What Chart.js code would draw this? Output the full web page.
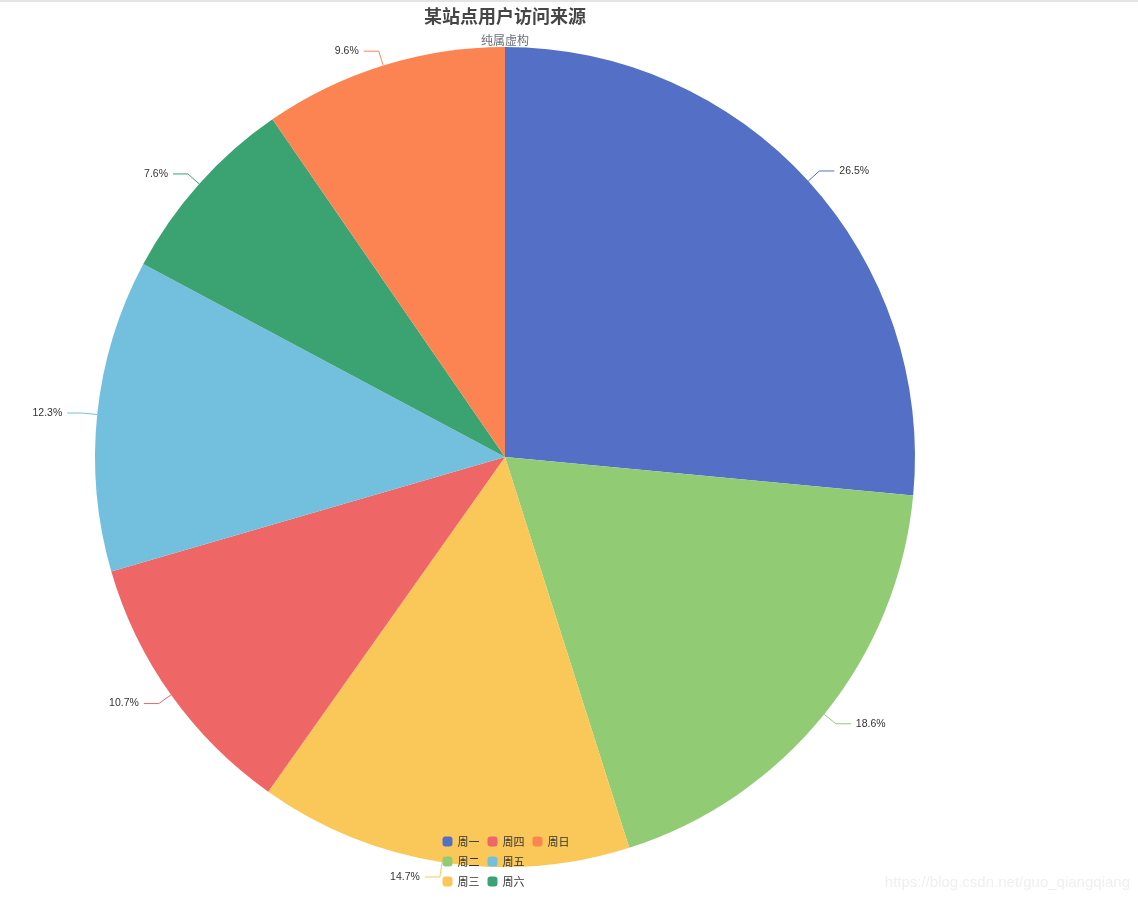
<!DOCTYPE html>
<html>
<head>
<meta charset="utf-8">
<script src="https://cdn.jsdelivr.net/npm/chart.js@4"></script>
<style>
html,body{margin:0;padding:0;background:#fff;}
#wrap{position:relative;width:1138px;height:901px;border-top:2px solid #e4e4e4;box-sizing:border-box;}
canvas{display:block;}
</style>
</head>
<body>
<div id="wrap"><canvas id="c" width="1138" height="899"></canvas></div>
<script>
const categories = ['周一', '周二', '周三', '周四', '周五', '周六', '周日'];
const percentValues = [26.5, 18.6, 14.7, 10.7, 12.3, 7.6, 9.6];
const sliceColors = ['#5470c6', '#91cc75', '#fac858', '#ee6666', '#73c0de', '#3ba272', '#fc8452'];
const titleText = '某站点用户访问来源';
const subtitleText = '纯属虚构';
const watermarkText = 'https://blog.csdn.net/guo_qiangqiang';
const legendColumns = [['周一', '周二', '周三'], ['周四', '周五', '周六'], ['周日']];

const FONT = '"Liberation Sans", "Noto Sans CJK SC", sans-serif';
const CJK = '"Noto Sans CJK SC", "Liberation Sans", sans-serif';

const overlay = {
  id: 'overlay',
  afterDatasetsDraw(chart) {
    const ctx = chart.ctx;
    const meta = chart.getDatasetMeta(0);
    ctx.save();
    // leader lines + labels
    meta.data.forEach((arc, i) => {
      const mid = (arc.startAngle + arc.endAngle) / 2;
      const r = arc.outerRadius;
      const cx = arc.x, cy = arc.y;
      const x0 = cx + Math.cos(mid) * r, y0 = cy + Math.sin(mid) * r;
      const x1 = cx + Math.cos(mid) * (r + 15), y1 = cy + Math.sin(mid) * (r + 15);
      const dir = Math.cos(mid) >= 0 ? 1 : -1;
      const x2 = x1 + dir * 15;
      ctx.strokeStyle = sliceColors[i];
      ctx.lineWidth = 1;
      ctx.beginPath();
      ctx.moveTo(x0, y0);
      ctx.lineTo(x1, y1);
      ctx.lineTo(x2, y1);
      ctx.stroke();
      ctx.fillStyle = '#333';
      ctx.font = '10.5px ' + FONT;
      ctx.textBaseline = 'middle';
      ctx.textAlign = dir > 0 ? 'left' : 'right';
      ctx.fillText(percentValues[i].toFixed(1) + '%', x2 + dir * 5, y1);
    });
    // title
    ctx.textAlign = 'center';
    ctx.textBaseline = 'middle';
    ctx.fillStyle = '#464646';
    ctx.font = 'bold 18px ' + CJK;
    ctx.fillText(titleText, 505, 14);
    ctx.fillStyle = '#6e7079';
    ctx.font = '12px ' + CJK;
    ctx.fillText(subtitleText, 505, 38);
    // legend
    const colX = [442.5, 487.5, 532.5];
    const rowY = [839.5, 859.5, 879.5];
    legendColumns.forEach((col, ci) => {
      col.forEach((name, ri) => {
        const idx = categories.indexOf(name);
        const x = colX[ci], y = rowY[ri];
        ctx.fillStyle = sliceColors[idx];
        ctx.beginPath();
        if (ctx.roundRect) ctx.roundRect(x, y - 5, 10, 10, 3); else ctx.rect(x, y - 5, 10, 10);
        ctx.fill();
        ctx.fillStyle = '#333';
        ctx.font = '11px ' + CJK;
        ctx.textAlign = 'left';
        ctx.textBaseline = 'middle';
        ctx.fillText(name, x + 15, y);
      });
    });
    // watermark
    ctx.fillStyle = '#efefef';
    ctx.font = '15px ' + FONT;
    ctx.textAlign = 'right';
    ctx.fillText(watermarkText, 1130, 881);
    ctx.restore();
  }
};

new Chart(document.getElementById('c'), {
  type: 'pie',
  data: {
    labels: categories,
    datasets: [{
      data: percentValues,
      backgroundColor: sliceColors,
      borderWidth: 0,
      hoverOffset: 0
    }]
  },
  options: {
    responsive: false,
    animation: false,
    layout: { padding: { left: 95, right: 223, top: 45, bottom: 34 } },
    plugins: {
      legend: { display: false },
      title: { display: false },
      tooltip: { enabled: false }
    }
  },
  plugins: [overlay]
});
</script>
</body>
</html>
